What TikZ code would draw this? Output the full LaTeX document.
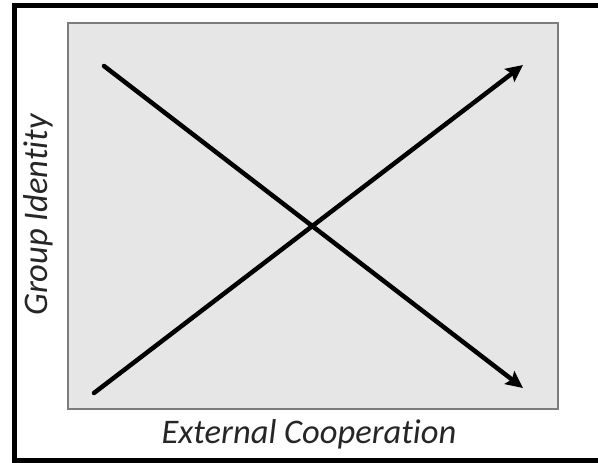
\documentclass[tikz,border=0pt]{standalone}
\usepackage{fontspec}
\setmainfont{Carlito}[Ligatures=NoCommon]
\usetikzlibrary{arrows.meta}
\definecolor{panelgray}{RGB}{230,230,230}
\definecolor{edgegray}{RGB}{125,125,125}
\tikzset{chart/.style={x=1pt,y=-1pt},
  axislabel/.style={font=\fontsize{34.5}{40}\selectfont\itshape,text=black!85,inner sep=0pt},
  trend/.style={line width=4.5pt,line cap=round,-{Stealth[length=17pt,width=16pt,inset=3pt]}}}

\begin{document}
\begin{tikzpicture}[chart]
    \useasboundingbox (0,0) rectangle (598,463);
    \fill[white] (0,0) rectangle (598,463);
    \draw[line width=5pt] (14,5) rectangle (620,460);
    \draw[edgegray,fill=panelgray,line width=2pt] (68,23) rectangle (558,409);
    \coordinate (gstart) at (104,66);
    \coordinate (gend) at (523,388);
    \coordinate (cstart) at (94,393);
    \coordinate (cend) at (523,65);
    \draw[trend] (gstart) -- (gend);
    \draw[trend] (cstart) -- (cend);
    \node[axislabel,rotate=90] (ylab) at (38,215) {Group Identity};
    \node[axislabel] (xlab) at (309,434) {External Cooperation};
\end{tikzpicture}
\end{document}
